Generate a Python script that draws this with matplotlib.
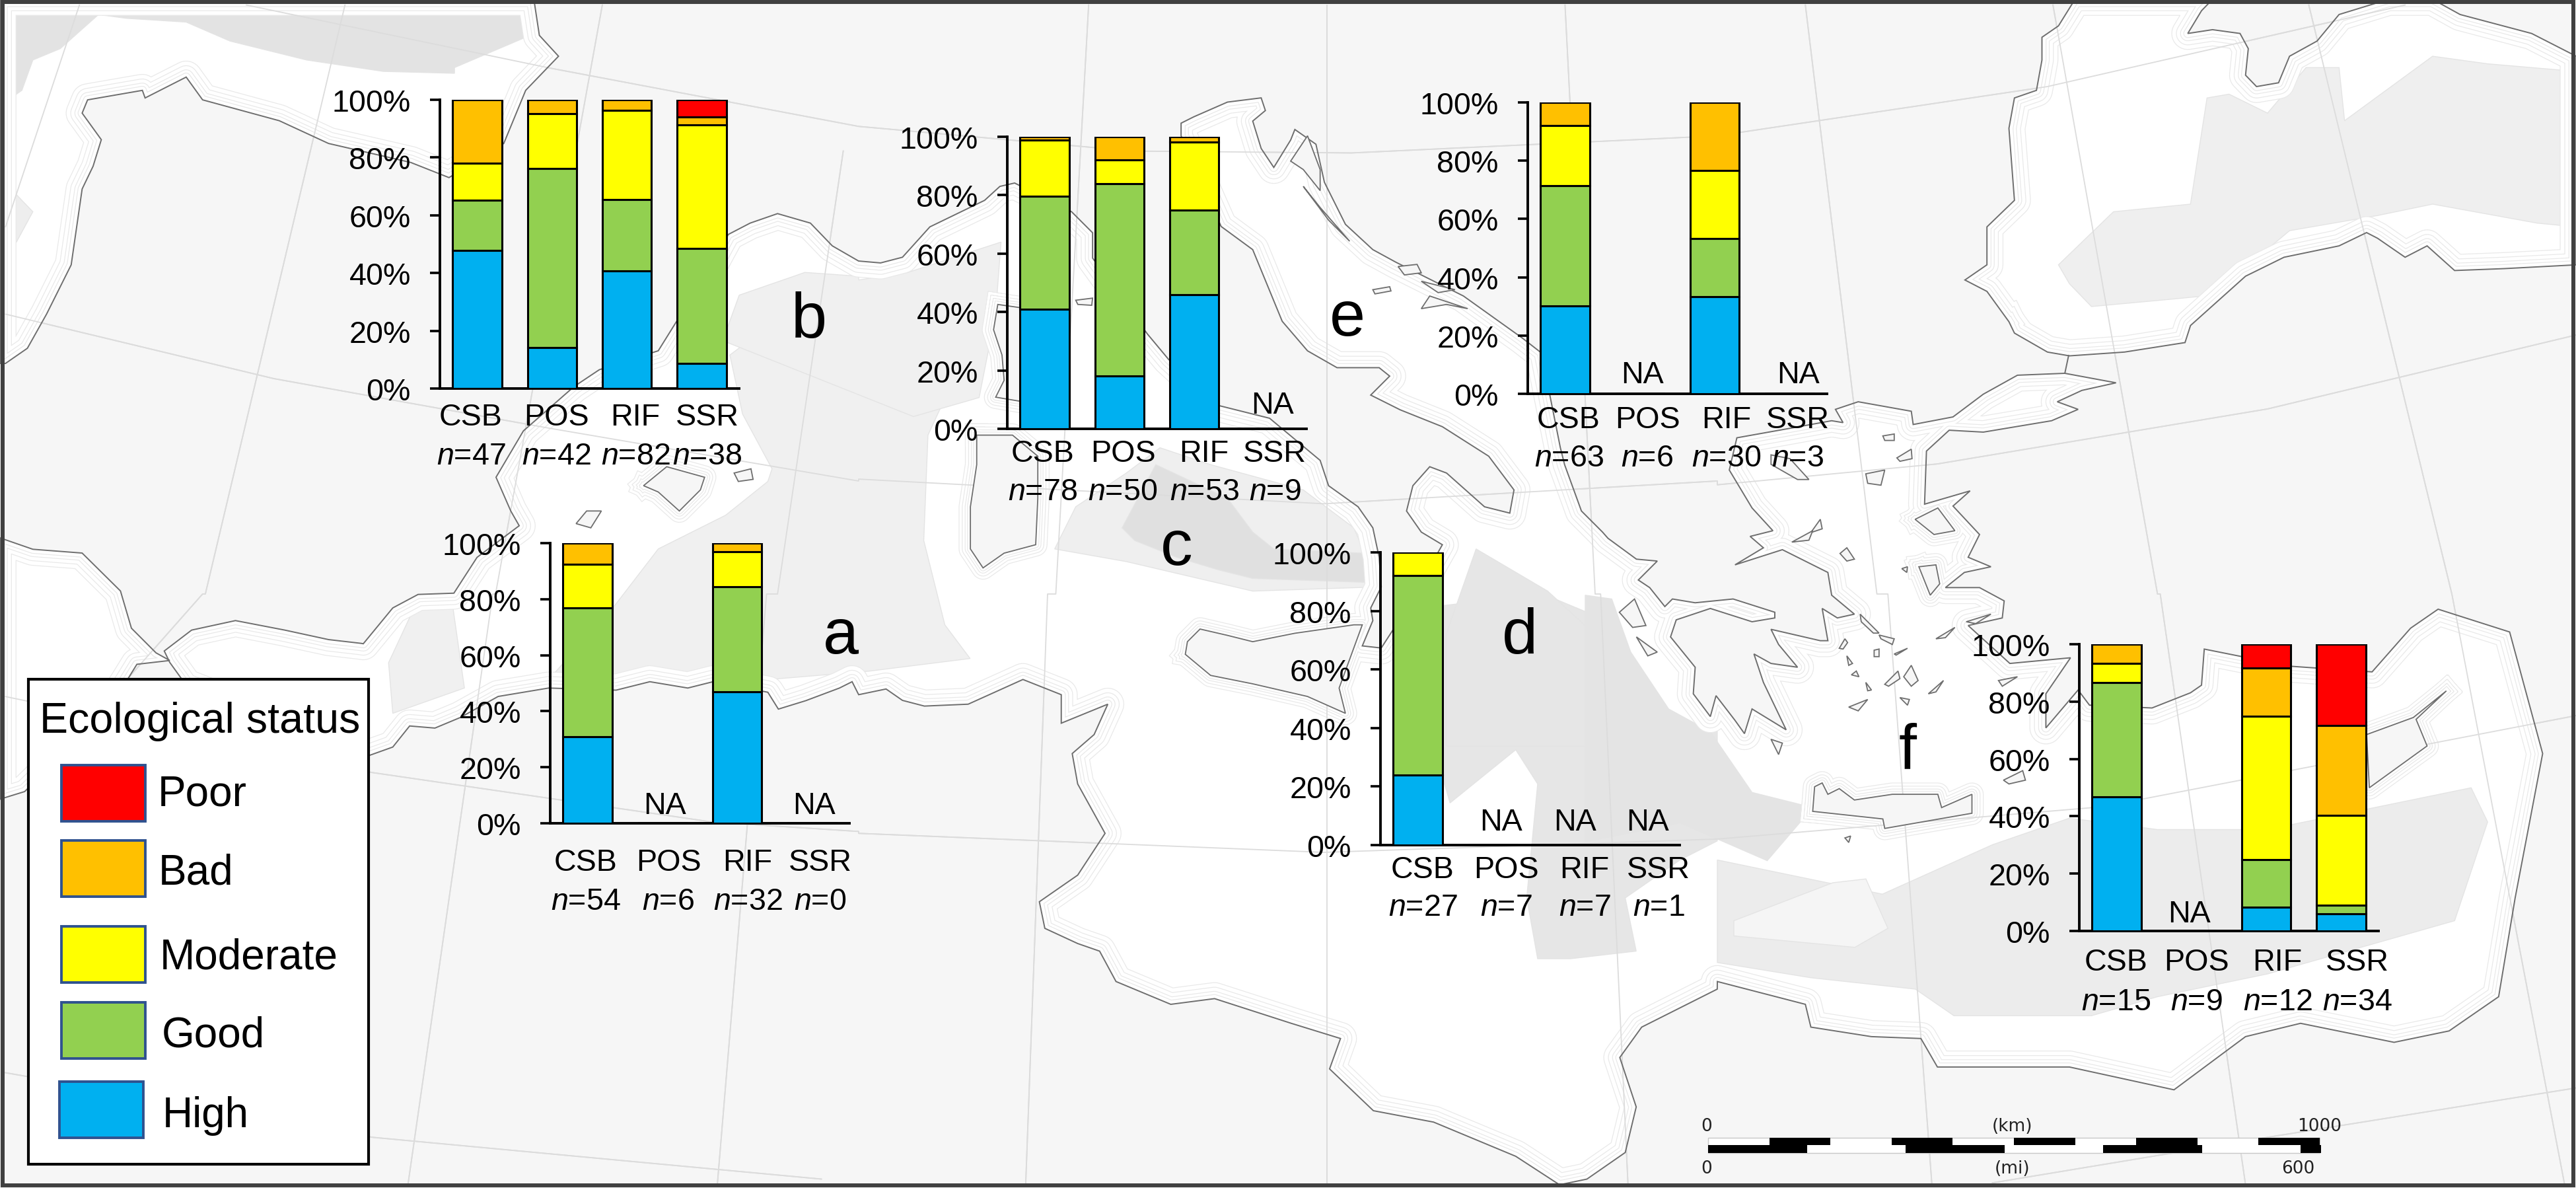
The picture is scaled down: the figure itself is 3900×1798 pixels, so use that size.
import matplotlib
matplotlib.use('Agg')
import matplotlib.pyplot as plt
from matplotlib.patches import Polygon, Rectangle

plt.rcParams['font.family'] = ['Liberation Sans', 'DejaVu Sans']
plt.rcParams['mathtext.fontset'] = 'custom'
plt.rcParams['mathtext.rm'] = 'Liberation Sans'
plt.rcParams['mathtext.it'] = 'Liberation Sans:italic'

W, H = 3900, 1799

# ---- chart data, percent per category (CSB, POS, RIF, SSR)
categories = ['CSB', 'POS', 'RIF', 'SSR']
status_names = ['High', 'Good', 'Moderate', 'Bad', 'Poor']
status_colors = ['#00B0F0', '#92D050', '#FFFF00', '#FFC000', '#FF0000']

a_high = [30.8, 0, 46.9, 0]
a_good = [46.0, 0, 37.6, 0]
a_moderate = [15.6, 0, 12.4, 0]
a_bad = [7.6, 0, 3.1, 0]
a_poor = [0, 0, 0, 0]
a_n = [54, 6, 32, 0]

b_high = [47.8, 14.3, 40.8, 8.7]
b_good = [17.4, 61.9, 24.6, 39.8]
b_moderate = [12.8, 19.0, 31.0, 42.8]
b_bad = [22.0, 4.8, 3.6, 2.8]
b_poor = [0, 0, 0, 5.9]
b_n = [47, 42, 82, 38]

c_high = [41.0, 18.0, 46.0, 0]
c_good = [38.7, 66.0, 29.0, 0]
c_moderate = [19.1, 8.0, 23.2, 0]
c_bad = [1.2, 8.0, 1.8, 0]
c_poor = [0, 0, 0, 0]
c_n = [78, 50, 53, 9]

d_high = [24.0, 0, 0, 0]
d_good = [68.0, 0, 0, 0]
d_moderate = [8.0, 0, 0, 0]
d_bad = [0, 0, 0, 0]
d_poor = [0, 0, 0, 0]
d_n = [27, 7, 7, 1]

e_high = [30.2, 0, 33.3, 0]
e_good = [41.3, 0, 20.0, 0]
e_moderate = [20.6, 0, 23.3, 0]
e_bad = [7.9, 0, 23.4, 0]
e_poor = [0, 0, 0, 0]
e_n = [63, 6, 30, 3]

f_high = [46.7, 0, 8.3, 6.1]
f_good = [40.0, 0, 16.7, 3.0]
f_moderate = [6.6, 0, 50.0, 31.3]
f_bad = [6.7, 0, 16.7, 31.3]
f_poor = [0, 0, 8.3, 28.3]
f_n = [15, 9, 12, 34]

km_ticks = [0, 100, 200, 300, 400, 500, 600, 700, 800, 900, 1000]
mi_ticks = [0, 100, 200, 300, 400, 500, 600, 621]

# ---- panel layout in picture pixels
panels = [
    dict(letter='a', values=[a_high, a_good, a_moderate, a_bad, a_poor], n=a_n,
         spine=833, top=823, zero=1247, letter_xy=(1273, 989),
         label_x=[887, 1012, 1132, 1242], label_y=1318, n_y=1377, na_x=[1006, 1233], na_gap=15),
    dict(letter='b', values=[b_high, b_good, b_moderate, b_bad, b_poor], n=b_n,
         spine=666, top=152, zero=589, letter_xy=(1225, 511),
         label_x=[713, 842, 962, 1071], label_y=644, n_y=703, na_x=[], na_gap=15),
    dict(letter='c', values=[c_high, c_good, c_moderate, c_bad, c_poor], n=c_n,
         spine=1525, top=208, zero=650, letter_xy=(1781, 855),
         label_x=[1579, 1700, 1823, 1930], label_y=699, n_y=757, na_x=[1927], na_gap=24),
    dict(letter='d', values=[d_high, d_good, d_moderate, d_bad, d_poor], n=d_n,
         spine=2090, top=837, zero=1280, letter_xy=(2301, 989),
         label_x=[2154, 2280, 2399, 2511], label_y=1329, n_y=1386, na_x=[2272, 2385, 2494], na_gap=23),
    dict(letter='e', values=[e_high, e_good, e_moderate, e_bad, e_poor], n=e_n,
         spine=2313, top=156, zero=597, letter_xy=(2040, 508),
         label_x=[2375, 2494, 2614, 2722], label_y=648, n_y=706, na_x=[2486, 2722], na_gap=17),
    dict(letter='f', values=[f_high, f_good, f_moderate, f_bad, f_poor], n=f_n,
         spine=3148, top=976, zero=1410, letter_xy=(2888, 1163),
         label_x=[3204, 3325, 3448, 3569], label_y=1469, n_y=1529, na_x=[3314], na_gap=14),
]

tiles = {
    'A': (0, 0, 0.829, 0.574), 'B': (0, 900, 0.829, 0.575),
    'C': (1300, 0, 0.829, 0.574), 'D': (1300, 900, 0.829, 0.575),
    'E': (2600, 0, 0.833, 0.574), 'F': (2600, 900, 0.833, 0.575),
    'G': (1450, 130, 0.638, 0.638), 'H': (2400, 500, 0.574, 0.574),
    'J': (550, 500, 0.638, 0.638),
}


def trace(*runs):
    """runs: (tile, [(x, y), ...]) -> picture pixels"""
    out = []
    for tile, pts in runs:
        x0, y0, sx, sy = tiles[tile]
        out += [(x0 + x * sx, y0 + y * sy) for x, y in pts]
    return out


med_sea = trace(
    ('B', [(300, 150), (350, 95), (430, 70), (520, 95), (600, 120), (660, 130)]),
    ('J', [(0, 745), (70, 660), (130, 628), (215, 625), (270, 540), (370, 465), (350, 430), (315, 350), (380, 240),
           (500, 135), (560, 95), (700, 50)]),
    ('A', [(1300, 700), (1330, 620), (1370, 590), (1420, 565), (1480, 590), (1520, 650), (1568, 690)]),
    ('C', [(0, 690), (40, 695), (80, 680), (130, 600), (230, 530)]),
    ('G', [(100, 240), (135, 232), (270, 300), (320, 350), (320, 410), (450, 590), (500, 650), (620, 760), (680, 775),
           (740, 790), (860, 890), (880, 950), (950, 1000), (985, 1050), (1000, 1120), (1005, 1190), (980, 1240),
           (985, 1270), (960, 1330), (1005, 1335), (1060, 1250), (1150, 1090), (1100, 1060), (1065, 1010), (1080, 950),
           (1120, 905), (1160, 920), (1250, 1000), (1310, 1015), (1320, 960), (1260, 880), (1150, 810), (1050, 770),
           (980, 735), (1025, 690), (1000, 670), (900, 670), (830, 630), (770, 560), (700, 390), (625, 335), (530, 120),
           (530, 90), (560, 75), (640, 40), (720, 30), (730, 60), (700, 85), (720, 150), (750, 195), (790, 130),
           (800, 105), (850, 140), (870, 230), (920, 330), (985, 390), (1040, 420), (1200, 500), (1340, 600),
           (1385, 635), (1430, 860), (1440, 900), (1480, 1010), (1530, 1060)]),
    ('H', [(60, 550), (135, 605), (190, 610), (140, 660), (170, 680), (210, 730), (230, 710), (290, 720), (390, 710),
           (500, 745), (500, 760), (440, 770), (330, 735), (240, 765), (225, 810), (290, 890), (285, 960), (330, 1020),
           (345, 965), (395, 1030), (420, 1065), (440, 1000), (530, 1055), (470, 930), (445, 855), (490, 880),
           (560, 890), (510, 830), (490, 790), (620, 820), (640, 820), (625, 735), (665, 760), (710, 750), (650, 700),
           (640, 640), (520, 580), (395, 620), (470, 575), (435, 545), (495, 530), (440, 470), (380, 370), (400, 285),
           (540, 260), (650, 240), (680, 245), (660, 210), (720, 190), (860, 215), (865, 250), (970, 230), (1050, 170),
           (1140, 120), (1265, 115), (1400, 140), (1310, 160), (1245, 190), (1300, 210), (1230, 240), (1050, 270),
           (960, 265), (900, 320), (895, 460), (1015, 425), (970, 465), (1040, 540), (1010, 600), (1070, 625),
           (1000, 640), (950, 680), (1040, 680), (1105, 715), (1100, 760), (1010, 780), (1120, 880), (1280, 865),
           (1215, 960), (1215, 1050), (1300, 950), (1330, 990)]),
    ('F', [(790, 300), (860, 260), (880, 240), (885, 145),
           (1040, 190), (1190, 205), (1260, 90), (1310, 40), (1440, 100), (1500, 420), (1450, 800), (1420, 1060),
           (1330, 1150), (1230, 1180), (1060, 1130), (960, 1165), (830, 1305), (640, 1245), (400, 1245), (370, 1170),
           (280, 1165), (170, 1140), (160, 1080), (0, 1020)]),
    ('D', [(1568, 1040), (1430, 1140), (1390, 1220), (1420, 1350), (1400, 1470), (1330, 1540), (1280, 1555),
           (1200, 1480), (1050, 1390), (940, 1360), (860, 1250), (880, 1170), (790, 1130), (650, 1065), (570, 1080),
           (470, 1020), (440, 940), (400, 920), (340, 880), (330, 810), (400, 740), (450, 630), (400, 500), (390, 420),
           (430, 370), (455, 290), (370, 340), (370, 265), (300, 225), (200, 290), (120, 295), (80, 280), (50, 250),
           (0, 265)]),
    ('J', [(1160, 835), (1130, 850), (1050, 880), (985, 900), (960, 860), (830, 835), (770, 850), (680, 835), (600, 855),
           (440, 850), (320, 870), (230, 920), (170, 945), (110, 940), (70, 990), (0, 1015)]),
    ('B', [(500, 330), (340, 240), (310, 180)]),
)

atlantic_north = trace(('A', [(0, 960), (10, 960), (50, 920), (85, 830), (130, 700), (150, 500), (170, 440), (185, 370),
                              (150, 300), (160, 265), (260, 240), (265, 260), (340, 205), (370, 265), (510, 320), (600, 380),
                              (750, 430), (820, 470), (920, 380), (960, 240), (1020, 150), (985, 95), (975, 0), (0, 0)]))
atlantic_south = trace(('A', [(0, 1420), (60, 1450), (150, 1460), (220, 1560)]),
                       ('B', [(240, 90), (285, 155), (310, 175), (250, 185), (235, 220), (200, 300), (45, 520), (0, 540)]))
black_sea = trace(('E', [(530, 850), (540, 880), (600, 930), (640, 940), (740, 930), (850, 905), (860, 860), (960, 730),
                         (1030, 680), (1130, 650), (1180, 615), (1200, 630), (1250, 680), (1290, 650), (1340, 715),
                         (1430, 710), (1561, 700), (1561, 150), (1480, 90), (1350, 40), (1300, 0), (1220, 0), (1130, 40),
                         (1090, 110), (1040, 150), (1020, 220), (980, 230), (960, 200), (965, 130), (950, 90), (900, 80),
                         (855, 90), (880, 30), (900, 0), (650, 0), (620, 70), (590, 100), (590, 160), (580, 240),
                         (540, 260), (530, 340), (540, 530), (490, 600), (490, 700), (450, 740), (490, 770)]))
bosporus = trace(('H', [(1275, 68), (1265, 115)]))

large_islands = [
    trace(('J', [(665, 370), (720, 325), (810, 350), (800, 380), (750, 430), (700, 385)])),
    trace(('G', [(95, 520), (85, 580), (105, 640), (110, 700), (90, 740), (150, 750), (165, 530)])),
    trace(('G', [(45, 830), (45, 900), (30, 1000), (30, 1100), (60, 1145), (110, 1110), (185, 1090), (190, 980),
                 (190, 880), (130, 830)])),
    trace(('G', [(540, 1350), (545, 1320), (575, 1290), (640, 1305), (700, 1320), (800, 1300), (940, 1280), (960, 1280),
                 (905, 1430), (920, 1490), (830, 1450), (700, 1420), (600, 1400)])),
    trace(('H', [(600, 1270), (605, 1205), (625, 1195), (640, 1225), (670, 1210), (710, 1240), (810, 1225), (930, 1225),
                 (940, 1260), (1020, 1225), (1020, 1275), (790, 1315), (785, 1290)])),
    trace(('F', [(1325, 255), (1270, 330), (1290, 400), (1185, 510), (1180, 370), (1265, 325)])),
    trace(('H', [(870, 500), (930, 470), (975, 530), (920, 540)])),
    trace(('H', [(880, 625), (925, 620), (935, 670), (910, 700)])),
]

small_islands = [
    trace(('J', [(880, 340), (920, 330), (925, 355), (890, 360)])),
    trace(('J', [(505, 460), (530, 430), (565, 430), (540, 470)])),
    trace(('H', [(490, 355), (560, 395), (590, 395), (540, 340), (490, 330)])),
    trace(('H', [(785, 280), (815, 275), (815, 292), (790, 292)])),
    trace(('H', [(822, 338), (860, 315), (862, 340), (830, 347)])),
    trace(('H', [(740, 380), (790, 370), (780, 410), (745, 405)])),
    trace(('H', [(90, 745), (130, 710), (160, 780), (125, 785)])),
    trace(('H', [(135, 810), (190, 850), (165, 860)])),
    trace(('H', [(490, 1080), (520, 1090), (510, 1120)])),
    trace(('H', [(725, 750), (775, 800), (760, 800), (728, 770)])),
    trace(('H', [(775, 805), (815, 815), (810, 830), (780, 815)])),
    trace(('H', [(815, 855), (850, 840), (820, 858)])),
    trace(('H', [(925, 815), (975, 785), (950, 812)])),
    trace(('H', [(670, 840), (685, 815), (692, 825), (680, 842)])),
    trace(('H', [(690, 860), (705, 880), (695, 885)])),
    trace(('H', [(702, 910), (715, 900), (722, 915)])),
    trace(('H', [(740, 930), (755, 950), (745, 952)])),
    trace(('H', [(762, 845), (775, 842), (775, 862), (762, 862)])),
    trace(('H', [(840, 915), (860, 885), (878, 925), (860, 940)])),
    trace(('H', [(790, 935), (825, 900), (830, 920), (800, 940)])),
    trace(('H', [(695, 995), (745, 975), (720, 1005)])),
    trace(('H', [(830, 970), (855, 975), (850, 990)])),
    trace(('H', [(905, 960), (945, 925), (925, 955)])),
    trace(('H', [(595, 535), (620, 500), (625, 525)])),
    trace(('H', [(545, 560), (600, 530), (590, 555)])),
    trace(('H', [(672, 590), (690, 575), (710, 605), (690, 610)])),
    trace(('H', [(835, 630), (850, 625), (848, 640)])),
    trace(('H', [(1090, 925), (1140, 915), (1100, 940)])),
    trace(('H', [(1005, 770), (1070, 750), (1030, 775)])),
    trace(('H', [(685, 1340), (700, 1335), (695, 1352)])),
    trace(('F', [(520, 490), (555, 465), (560, 490), (530, 500)])),
    trace(('G', [(985, 485), (1025, 478), (1028, 488), (990, 495)])),
    trace(('G', [(1045, 430), (1090, 425), (1100, 445), (1060, 450)])),
    trace(('G', [(1100, 465), (1180, 485), (1140, 492)])),
    trace(('G', [(1100, 530), (1120, 500), (1210, 530), (1160, 520)])),
    trace(('G', [(280, 510), (320, 505), (318, 522), (285, 520)])),
    trace(('G', [(820, 240), (860, 290), (930, 370), (880, 320)])),
    trace(('G', [(790, 180), (830, 120), (860, 200), (860, 250), (820, 200)])),
]

# deep basins, lighter then darker
basins = [
    ('#e3e3e3', trace(('A', [(0, 0), (975, 0), (960, 100), (830, 180), (830, 195), (700, 190), (560, 160), (420, 110),
                             (340, 60), (230, 50), (180, 40), (110, 130), (60, 160), (40, 240), (0, 280)]))),
    ('#eeeeee', trace(('A', [(0, 470), (60, 560), (30, 640), (0, 640)]))),
    ('#f0f0f0', trace(('J', [(60, 790), (130, 640), (210, 640), (240, 850), (70, 910)]))),
    ('#f0f0f0', trace(('J', [(440, 830), (600, 650), (700, 520), (860, 440), (960, 360), (970, 330), (900, 200), (870, 60),
                             (950, 0), (1490, 0), (1400, 120), (1340, 250), (1330, 500), (1380, 700), (1440, 780),
                             (1200, 810), (960, 830), (830, 820)]))),
    ('#f0f0f0', trace(('A', [(1320, 900), (1350, 780), (1470, 720), (1568, 730)]),
                      ('C', [(0, 740), (90, 720), (260, 640), (250, 830), (220, 1050), (100, 1100)]))),
    ('#efefef', trace(('G', [(230, 1100), (280, 1000), (400, 920), (480, 860), (600, 900), (820, 960), (940, 1050),
                             (1000, 1190), (700, 1200), (400, 1130)]))),
    ('#e0e0e0', trace(('G', [(390, 1050), (470, 900), (640, 980), (700, 1060), (750, 1100), (960, 1110), (990, 1180),
                             (700, 1170), (620, 1150), (520, 1120), (420, 1080)]))),
    ('#e6e6e6', trace(('D', [(1070, 30), (1250, 0), (1350, 60), (1390, 330), (1568, 350), (1568, 650), (1500, 700),
                             (1400, 800), (1420, 940), (1300, 960), (1240, 960), (1220, 800), (1240, 500), (1200, 410),
                             (1080, 550), (1070, 500)]))),
    ('#e6e6e6', trace(('G', [(1160, 1568), (1160, 1300), (1230, 1100), (1400, 1200), (1530, 1320), (1568, 1568)]))),
    ('#e4e4e4', trace(('H', [(0, 700), (70, 710), (120, 850), (220, 1000), (330, 1060), (440, 1220), (600, 1260),
                             (480, 1400), (250, 1300), (0, 1350)]))),
    ('#ececec', trace(('F', [(0, 700), (200, 760), (300, 790), (500, 660), (640, 590), (800, 620), (1000, 620),
                             (1370, 510), (1400, 600), (1340, 860), (1000, 1000), (800, 1060), (680, 1110), (430, 1110),
                             (360, 1040), (170, 1010), (0, 970)]))),
    ('#f5f5f5', trace(('F', [(30, 860), (210, 760), (270, 750), (310, 880), (250, 930), (30, 900)]))),
    ('#efefef', trace(('E', [(890, 260), (930, 250), (1000, 300), (1070, 180), (1130, 180), (1140, 320), (1300, 150),
                             (1400, 170), (1561, 190), (1561, 600), (1490, 590), (1300, 540), (1200, 570), (1040, 610),
                             (900, 780), (830, 790), (680, 810), (640, 750), (620, 700), (720, 560), (860, 540)]))),
]

# graticule
meridians = [
    trace(('A', [(145, 15), (10, 600)])),
    trace(('A', [(630, 15), (375, 1568)]), ('B', [(370, 0), (235, 220)])),
    trace(('A', [(1100, 15), (905, 1568)]), ('B', [(900, 0), (745, 1555)])),
    trace(('A', [(1540, 400), (1420, 1568)]), ('B', [(1400, 0), (1310, 1555)])),
    trace(('C', [(420, 15), (360, 1568)]), ('D', [(345, 0), (305, 1555)])),
    trace(('C', [(855, 15), (855, 1568)]), ('D', [(855, 0), (855, 1555)])),
    trace(('C', [(1290, 15), (1345, 1568)]), ('D', [(1355, 0), (1405, 1555)])),
    trace(('E', [(160, 15), (290, 1568)]), ('F', [(310, 0), (390, 1555)])),
    trace(('E', [(610, 15), (800, 1568)]), ('F', [(805, 0), (960, 1555)])),
    trace(('E', [(1075, 15), (1335, 1568)]), ('F', [(1335, 0), (1540, 1555)])),
]
parallels = [
    trace(('A', [(450, 15), (1000, 180), (1568, 335)]), ('C', [(0, 335), (500, 400), (900, 405), (1568, 360)]),
          ('E', [(45, 350), (600, 230), (1250, 15)])),
    trace(('A', [(10, 830), (500, 1000), (1000, 1130), (1568, 1270)]), ('C', [(0, 1265), (850, 1330), (1568, 1270)]),
          ('E', [(0, 1280), (400, 1225), (1000, 1080), (1561, 885)])),
    trace(('B', [(10, 270), (680, 470), (1300, 600), (1568, 625)]), ('D', [(0, 630), (850, 680), (1568, 645)]),
          ('F', [(0, 645), (700, 560), (1561, 320)])),
    trace(('B', [(10, 1260), (680, 1430), (1500, 1540)])),
    trace(('F', [(500, 1550), (1000, 1430), (1561, 1300)])),
]

fig = plt.figure(figsize=(W / 100, H / 100), dpi=100, facecolor='#f6f6f6')

# full picture axes in pixel coordinates, holds the map and the loose texts
bg = fig.add_axes([0, 0, 1, 1], zorder=0)
bg.set_xlim(0, W)
bg.set_ylim(H, 0)
bg.axis('off')

seas = [med_sea, atlantic_north, atlantic_south, black_sea]
for line in meridians + parallels:
    bg.plot(*zip(*line), color='#d8d8d8', lw=1.3, zorder=1)
for poly in seas:
    bg.add_patch(Polygon(poly, closed=True, fc='white', ec='none', zorder=2))
for color, poly in basins:
    bg.add_patch(Polygon(poly, closed=True, fc=color, ec='#e4e4e4', lw=1.0, zorder=3))


def stroke(poly, clip, lw, color, z):
    x, y = zip(*(poly + poly[:1]))
    line, = bg.plot(x, y, color=color, lw=lw, solid_joinstyle='round', zorder=z)
    line.set_clip_path(Polygon(clip, closed=True, transform=bg.transData))


# shelf: nested strokes of the coast, clipped to the water, leave depth lines parallel to it
z = 3.1
for lw in [34, 24, 15, 8]:
    for sea in seas:
        stroke(sea, sea, lw + 1.8, '#e9e9e9', z)
    for isl in large_islands:
        stroke(isl, med_sea, lw * 0.7 + 1.8, '#e9e9e9', z)
    z += 0.01
    for sea in seas:
        stroke(sea, sea, lw, 'white', z)
    for isl in large_islands:
        stroke(isl, med_sea, lw * 0.7, 'white', z)
    z += 0.01

for line in meridians + parallels:
    bg.plot(*zip(*line), color='#dcdcdc', lw=1.3, zorder=3.6)
for poly in seas:
    bg.add_patch(Polygon(poly, closed=True, fc='none', ec='#6e6e6e', lw=1.4, zorder=4))
bg.plot(*zip(*bosporus), color='#6e6e6e', lw=1.4, zorder=4)
for poly in large_islands + small_islands:
    bg.add_patch(Polygon(poly, closed=True, fc='#f6f6f6', ec='#6e6e6e', lw=1.3, zorder=4))

FS = 33.6

for p in panels:
    ax = fig.add_axes([p['spine'] / W, 1 - p['zero'] / H, 453 / W, (p['zero'] - p['top']) / H],
                      zorder=2, facecolor='none')
    bottom = [0, 0, 0, 0]
    for vals, color in zip(p['values'], status_colors):
        ax.bar(range(4), vals, width=0.66, bottom=bottom, color=color, edgecolor='black', linewidth=2.2, zorder=3)
        bottom = [b + v for b, v in zip(bottom, vals)]
    ax.set_xlim(-0.5, 3.5)
    ax.set_ylim(0, 100)
    ax.set_xticks([])
    ax.set_yticks(range(0, 101, 20))
    ax.set_yticklabels([f'{v}%' for v in range(0, 101, 20)], fontsize=FS)
    ax.tick_params(axis='y', length=10.8, width=2.6, pad=21)
    for side in ['top', 'right']:
        ax.spines[side].set_visible(False)
    ax.spines['left'].set_linewidth(2.8)
    ax.spines['bottom'].set_linewidth(2.8)

    for x, cat, n in zip(p['label_x'], categories, p['n']):
        bg.text(x, p['label_y'], cat, fontsize=FS, ha='center', va='baseline', zorder=6)
        bg.text(x, p['n_y'], rf'$\mathit{{n}}$={n}', fontsize=FS, ha='center', va='baseline', zorder=6)
    for x in p['na_x']:
        bg.text(x, p['zero'] - p['na_gap'], 'NA', fontsize=FS, ha='center', va='baseline', zorder=6)
    bg.text(*p['letter_xy'], p['letter'], fontsize=70, ha='center', va='baseline', zorder=6)

# legend box
bg.add_patch(Rectangle((43, 1029), 515, 734, fc='white', ec='black', lw=3, zorder=7))
bg.text(303, 1109, 'Ecological status', fontsize=46.5, ha='center', va='baseline', zorder=8)
legend_rows = [
    ('Poor', (93, 1159), 239, 1220),
    ('Bad', (93, 1273), 240, 1339),
    ('Moderate', (93, 1403), 242, 1467),
    ('Good', (93, 1518), 245, 1585),
    ('High', (90, 1638), 246, 1706),
]
for (label, (sx, sy), tx, ty) in legend_rows:
    color = status_colors[status_names.index(label)]
    bg.add_patch(Rectangle((sx, sy), 127, 85, fc=color, ec='#2f528f', lw=2.8, zorder=8))
    bg.text(tx, ty, label, fontsize=46, ha='left', va='baseline', zorder=8)

# scale bar
x0 = 2586
km_px = 0.926
mi_px = 1.495
bg.add_patch(Rectangle((x0, 1723), 926, 23, fc='white', ec='#c8c8c8', lw=1, zorder=5))
for i in range(len(km_ticks) - 1):
    if i % 2 == 1:
        bg.add_patch(Rectangle((x0 + km_ticks[i] * km_px, 1723), (km_ticks[i + 1] - km_ticks[i]) * km_px, 11,
                               fc='black', ec='none', zorder=5.5))
for i in range(len(mi_ticks) - 1):
    if i % 2 == 0:
        bg.add_patch(Rectangle((x0 + mi_ticks[i] * mi_px, 1734), (mi_ticks[i + 1] - mi_ticks[i]) * mi_px, 12,
                               fc='black', ec='none', zorder=5.5))
for tx, ty, label in [(2584, 1712, '0'), (3047, 1712, '(km)'), (3512, 1712, '1000'),
                      (2584, 1776, '0'), (3047, 1776, '(mi)'), (3479, 1776, '600')]:
    bg.text(tx, ty, label, fontsize=19, color='#222222', ha='center', va='baseline', zorder=6,
            family=['DejaVu Sans'])

# frame
bg.add_patch(Rectangle((4, 4), W - 8, H - 8, fc='none', ec='#404040', lw=4.3, zorder=9))

fig.savefig('out.png', dpi=100, facecolor=fig.get_facecolor())
